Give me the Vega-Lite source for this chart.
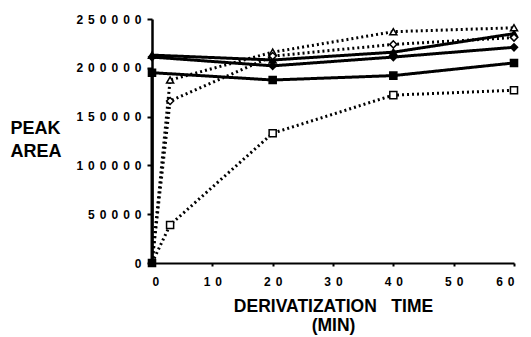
{
  "$schema": "https://vega.github.io/schema/vega-lite/v6.json",
  "width": 362,
  "height": 244,
  "autosize": {"type": "none"},
  "padding": {"left": 152, "top": 19, "right": 17, "bottom": 74},
  "background": "white",
  "config": {"view": {"stroke": null}, "font": "Liberation Sans"},
  "data": {
    "values": [
      {"s": "FT", "t": 0, "v": 213000},
      {"s": "FT", "t": 20, "v": 208000},
      {"s": "FT", "t": 40, "v": 216000},
      {"s": "FT", "t": 60, "v": 235000},
      {"s": "FD", "t": 0, "v": 211000},
      {"s": "FD", "t": 20, "v": 202000},
      {"s": "FD", "t": 40, "v": 211000},
      {"s": "FD", "t": 60, "v": 221000},
      {"s": "FS", "t": 0, "v": 0},
      {"s": "FS", "t": 0, "v": 195000},
      {"s": "FS", "t": 20, "v": 187500},
      {"s": "FS", "t": 40, "v": 192000},
      {"s": "FS", "t": 60, "v": 205000},
      {"s": "OT", "t": 0, "v": 0},
      {"s": "OT", "t": 3, "v": 187500},
      {"s": "OT", "t": 20, "v": 216000},
      {"s": "OT", "t": 40, "v": 237000},
      {"s": "OT", "t": 60, "v": 241000},
      {"s": "OD", "t": 0, "v": 0},
      {"s": "OD", "t": 3, "v": 166000},
      {"s": "OD", "t": 20, "v": 212000},
      {"s": "OD", "t": 40, "v": 224000},
      {"s": "OD", "t": 60, "v": 231000},
      {"s": "OS", "t": 0, "v": 0},
      {"s": "OS", "t": 3, "v": 39000},
      {"s": "OS", "t": 20, "v": 133000},
      {"s": "OS", "t": 40, "v": 172000},
      {"s": "OS", "t": 60, "v": 177000}
    ]
  },
  "encoding": {
    "x": {
      "field": "t",
      "type": "quantitative",
      "scale": {"domain": [0, 60], "nice": false},
      "axis": {
        "values": [0, 10, 20, 30, 40, 50, 60],
        "format": "d",
        "labelExpr": "join(split(datum.label, ''), '\u2004\u200a')",
        "labelFont": "Liberation Sans",
        "labelFontWeight": "bold",
        "labelFontSize": 12,
        "labelColor": "black",
        "labelPadding": 10,
        "labelBaseline": "top",
        "tickColor": "black",
        "tickSize": 3,
        "tickWidth": 2,
        "domainColor": "black",
        "domainWidth": 2,
        "grid": false,
        "title": ["DERIVATIZATION\u00a0\u00a0\u00a0TIME", "(MIN)"],
        "titleFont": "Liberation Sans",
        "titleFontWeight": "bold",
        "titleFontSize": 17.5,
        "titleColor": "black",
        "titleBaseline": "top",
        "titleY": 34,
        "titleLineHeight": 19
      }
    },
    "y": {
      "field": "v",
      "type": "quantitative",
      "scale": {"domain": [0, 250000], "nice": false},
      "axis": {
        "values": [0, 50000, 100000, 150000, 200000, 250000],
        "format": "d",
        "labelExpr": "join(split(datum.label, ''), '\u2004\u200a')",
        "labelFont": "Liberation Sans",
        "labelFontWeight": "bold",
        "labelFontSize": 12,
        "labelColor": "black",
        "labelPadding": 6,
        "tickColor": "black",
        "tickSize": 5,
        "tickWidth": 2,
        "domainColor": "black",
        "domainWidth": 2.5,
        "grid": false,
        "title": ["PEAK", "AREA"],
        "titleFont": "Liberation Sans",
        "titleFontWeight": "bold",
        "titleFontSize": 18,
        "titleColor": "black",
        "titleAngle": 0,
        "titleAlign": "left",
        "titleBaseline": "top",
        "titleX": -142,
        "titleY": 100,
        "titleLineHeight": 23
      }
    }
  },
  "layer": [
    {
      "mark": {"type": "line", "strokeWidth": 3, "color": "black"},
      "encoding": {
        "detail": {"field": "s"},
        "strokeDash": {
          "field": "s",
          "type": "nominal",
          "scale": {
            "domain": ["FT", "FD", "FS", "OT", "OD", "OS"],
            "range": [[1, 0], [1, 0], [1, 0], [2, 3], [2, 3], [2, 3]]
          },
          "legend": null
        },
        "order": {"value": null}
      }
    },
    {
      "transform": [{"filter": "datum.v > 0 || datum.s == 'FS'"}],
      "mark": {"type": "point", "filled": true, "stroke": "black", "strokeWidth": 1.5, "opacity": 1, "size": 50},
      "encoding": {
        "shape": {
          "field": "s",
          "type": "nominal",
          "scale": {
            "domain": ["FT", "FD", "FS", "OT", "OD", "OS"],
            "range": ["triangle-up", "diamond", "square", "triangle-up", "diamond", "square"]
          },
          "legend": null
        },
        "fill": {
          "field": "s",
          "type": "nominal",
          "scale": {
            "domain": ["FT", "FD", "FS", "OT", "OD", "OS"],
            "range": ["black", "black", "black", "white", "white", "white"]
          },
          "legend": null
        }
      }
    }
  ]
}
